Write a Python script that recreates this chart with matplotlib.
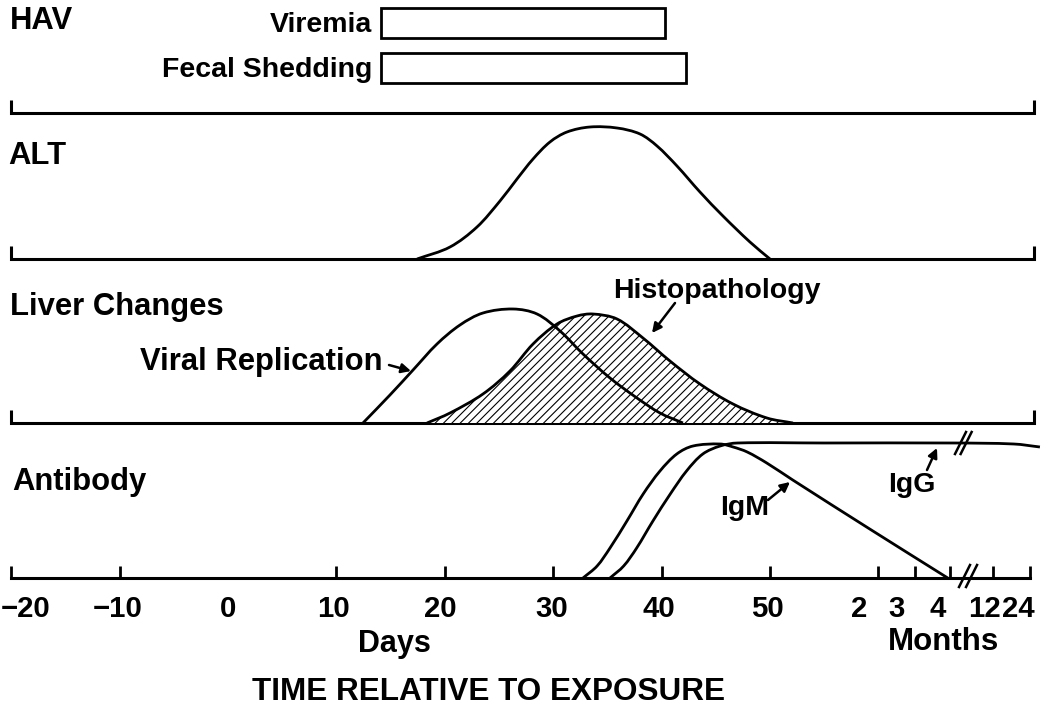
import numpy as np
import matplotlib
matplotlib.use("Agg")
import matplotlib.pyplot as plt
from matplotlib.path import Path
from matplotlib.patches import PathPatch

plt.rcParams['font.family'] = ['Liberation Sans', 'DejaVu Sans']
plt.rcParams['font.weight'] = 'bold'
plt.rcParams['hatch.linewidth'] = 0.8

# ---------------- data (x in days; months on compressed scale) ----------------
hav_items = ['Viremia', 'Fecal Shedding']
hav_start = [14.1, 14.1]
hav_end = [40.3, 42.25]

alt_day = [17.44, 20.48, 22.97, 25.09, 26.66, 28.14, 29.70, 31.27, 33.39, 35.89, 38.01,
           39.58, 41.42, 43.54, 45.66, 48.15, 50.0]
alt_lvl = [0, 12, 32, 58, 80, 100, 117, 127, 132, 131, 125, 113, 93, 67, 43, 17, 0]

viral_day = [12.45, 14.94, 17.07, 19.28, 21.40, 23.52, 26.29, 28.51, 30.63, 32.75, 35.24,
             37.73, 39.85, 41.97]
viral_lvl = [0, 28, 53, 79, 98, 110, 114, 109, 92, 69, 45, 25, 10, 0]

histo_day = [18.36, 20.48, 23.52, 26.01, 28.14, 30.35, 32.20, 33.67, 35.89, 38.28, 40.77,
             43.54, 46.59, 49.72, 52.12]
histo_lvl = [0, 10, 29, 52, 79, 99, 107, 109, 104, 85, 62, 39, 19, 5, 0]

igm_day = [32.75, 34.05, 35.24, 36.8, 38.3, 39.85, 41.4, 42.9, 45.4, 46.6, 47.9, 49.7, 52.1,
           59.2, 66.4]
igm_lvl = [0, 12, 30, 57, 84, 107, 124, 132, 134, 131, 126, 115, 98, 49, 0]

igg_day = [35.24, 36.5, 37.7, 39.2, 40.8, 42.3, 43.8, 45.4, 47.0, 55.0, 66.9, 72.5, 74.9]
igg_lvl = [0, 12, 30, 57, 84, 107, 124, 132, 135, 135, 135, 134, 131]

tick_pos = [-20, -10, 0, 10, 20, 30, 40, 50, 60, 63.4, 66.6, 70.6, 74.0]
tick_labels = ['\u221220', '\u221210', '0', '10', '20', '30', '40', '50', '2', '3', '4', '12', '24']

# ---------------- layout helpers ----------------
W, H = 1050, 706
ORIGIN_PX, PX_PER_DAY = 228.0, 10.84


def px2day(p):
    return (p - ORIGIN_PX) / PX_PER_DAY


X0, X1 = px2day(0), px2day(W)
LW_BASE = 2.2
LW_CURVE = 2.0

fig = plt.figure(figsize=(W / 100, H / 100), dpi=100)
fig.patch.set_facecolor('white')


def panel(baseline_px, height_px=165):
    ax = fig.add_axes([0, (H - baseline_px) / H, 1, height_px / H])
    ax.set_xlim(X0, X1)
    ax.set_ylim(0, height_px)
    ax.set_facecolor('none')
    for s in ax.spines.values():
        s.set_visible(False)
    ax.set_xticks([])
    ax.set_yticks([])
    return ax


def smooth_path(xs, ys, closed=False):
    """Smooth curve through the read points (chord-length Catmull-Rom as Bezier path)."""
    P = np.column_stack([np.asarray(xs, float) * PX_PER_DAY, np.asarray(ys, float)])
    n = len(P)
    seg = np.hypot(*np.diff(P, axis=0).T)
    t = np.concatenate([[0], np.cumsum(seg)])
    M = np.zeros_like(P)
    M[0] = (P[1] - P[0]) / (t[1] - t[0])
    M[-1] = (P[-1] - P[-2]) / (t[-1] - t[-2])
    for i in range(1, n - 1):
        M[i] = (P[i + 1] - P[i - 1]) / (t[i + 1] - t[i - 1])
    verts = [P[0]]
    codes = [Path.MOVETO]
    for i in range(n - 1):
        dt = t[i + 1] - t[i]
        verts += [P[i] + M[i] * dt / 3, P[i + 1] - M[i + 1] * dt / 3, P[i + 1]]
        codes += [Path.CURVE4] * 3
    if closed:
        verts += [P[0], P[0]]
        codes += [Path.LINETO, Path.CLOSEPOLY]
    V = np.array(verts)
    V[:, 0] /= PX_PER_DAY
    return Path(V, codes)


def baseline(ax):
    ax.plot([-20, -20, 74.4, 74.4], [13, 0, 0, 13], color='black', lw=LW_BASE,
            solid_joinstyle='miter', solid_capstyle='butt', clip_on=False)


LABEL_FS = 22.3
SMALL_FS = 20.5

# ---------------- HAV panel ----------------
ax1 = panel(113)
baseline(ax1)
bar_y = [90, 45]
ax1.barh(bar_y, np.array(hav_end) - np.array(hav_start), left=hav_start, height=30,
         color='white', edgecolor='black', linewidth=2.0)
ax1.text(px2day(10), 84, 'HAV', fontsize=LABEL_FS, ha='left', va='baseline')
for name, y in zip(hav_items, bar_y):
    ax1.text(px2day(372), y - 9, name, fontsize=SMALL_FS, ha='right', va='baseline')

# ---------------- ALT panel ----------------
ax2 = panel(259)
baseline(ax2)
ax2.add_patch(PathPatch(smooth_path(alt_day, alt_lvl), facecolor='none',
                        edgecolor='black', lw=LW_CURVE))
ax2.text(px2day(8), 95, 'ALT', fontsize=LABEL_FS, ha='left', va='baseline')

# ---------------- Liver changes panel ----------------
ax3 = panel(423)
baseline(ax3)
ax3.add_patch(PathPatch(smooth_path(histo_day, histo_lvl, closed=True), facecolor='white',
                        edgecolor='black', hatch='////', lw=0, zorder=2))
ax3.add_patch(PathPatch(smooth_path(histo_day, histo_lvl), facecolor='none',
                        edgecolor='black', lw=LW_CURVE, zorder=3))
ax3.add_patch(PathPatch(smooth_path(viral_day, viral_lvl), facecolor='none',
                        edgecolor='black', lw=LW_CURVE, zorder=4))
ax3.text(px2day(10), 108, 'Liver Changes', fontsize=LABEL_FS, ha='left', va='baseline')
ax3.text(px2day(140), 53, 'Viral Replication', fontsize=LABEL_FS, ha='left', va='baseline')
ax3.text(px2day(613), 125, 'Histopathology', fontsize=SMALL_FS, ha='left', va='baseline')
arrow = dict(arrowstyle='-|>', color='black', lw=1.8, mutation_scale=14, shrinkA=0, shrinkB=0)
ax3.annotate('', xy=(px2day(411), 52), xytext=(px2day(389), 58), arrowprops=arrow)
ax3.annotate('', xy=(px2day(652), 90), xytext=(px2day(675), 120), arrowprops=arrow)

# ---------------- Antibody panel ----------------
ax4 = panel(578)
ax4.add_patch(PathPatch(smooth_path(igg_day, igg_lvl), facecolor='none',
                        edgecolor='black', lw=LW_CURVE, clip_on=False))
ax4.add_patch(PathPatch(smooth_path(igm_day, igm_lvl), facecolor='none',
                        edgecolor='black', lw=LW_CURVE))
ax4.text(px2day(12), 88, 'Antibody', fontsize=LABEL_FS, ha='left', va='baseline')
ax4.text(px2day(720), 63, 'IgM', fontsize=SMALL_FS, ha='left', va='baseline')
ax4.text(px2day(888), 86, 'IgG', fontsize=SMALL_FS, ha='left', va='baseline')
ax4.annotate('', xy=(px2day(790), 96), xytext=(px2day(768), 78), arrowprops=arrow)
ax4.annotate('', xy=(px2day(937), 130), xytext=(px2day(927), 108), arrowprops=arrow)

# axis with ticks
ax4.spines['bottom'].set_visible(True)
ax4.spines['bottom'].set_linewidth(LW_BASE)
ax4.spines['bottom'].set_bounds(-20, 74.0)
label_px = [26, 118, 228, 333, 440, 552, 659, 767, 859, 897, 938, 984, 1018]
ax4.set_xticks([px2day(p) for p in label_px])
ax4.set_xticklabels(tick_labels, fontsize=21.2, fontweight='bold')
ax4.set_xticks(tick_pos, minor=True)
ax4.tick_params(axis='x', which='major', length=0, pad=12.2)
ax4.tick_params(axis='x', which='minor', direction='in', length=8.6, width=2.0)
ax4.set_xlim(X0, X1)

# break marks
for dx in (0.0, 0.65):
    ax4.plot([px2day(959) + dx, px2day(970) + dx], [-9, 13], color='black', lw=1.8, clip_on=False)
    ax4.plot([px2day(955) + dx * 0.8, px2day(966) + dx * 0.8], [124, 146], color='black', lw=1.8,
             clip_on=False)

fig.text(394 / W, 1 - 652 / H, 'Days', fontsize=22, ha='center', va='baseline')
fig.text(944 / W, 1 - 650 / H, 'Months', fontsize=22.5, ha='center', va='baseline')
fig.text(488 / W, 1 - 700 / H, 'TIME RELATIVE TO EXPOSURE', fontsize=22.7, ha='center',
         va='baseline')

fig.savefig('out.png', dpi=100, facecolor='white')
